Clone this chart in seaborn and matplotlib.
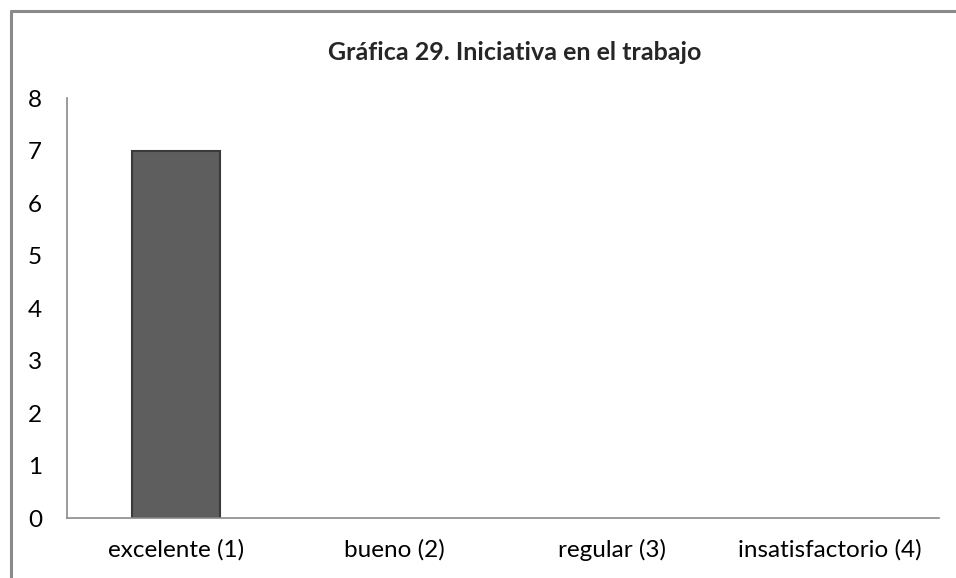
import matplotlib
matplotlib.use("Agg")
import matplotlib.pyplot as plt
import matplotlib.lines as mlines
import seaborn as sns
import pandas as pd

# datos de la gráfica
categorias = ['excelente (1)', 'bueno (2)', 'regular (3)', 'insatisfactorio (4)']
valores = [7, 0, 0, 0]
yticks = [0, 1, 2, 3, 4, 5, 6, 7, 8]
titulo = 'Gráfica 29. Iniciativa en el trabajo'

df = pd.DataFrame({'categoria': categorias, 'valor': valores})

sns.set_theme(style="white")
plt.rcParams['font.family'] = ['Lato', 'DejaVu Sans']

fig = plt.figure(figsize=(9.56, 5.78), dpi=100)
ax = fig.add_axes([0.0701, 0.1038, 0.912, 0.7266])

sns.barplot(data=df, x='categoria', y='valor', ax=ax, color='#5e5e5e',
            width=0.40, saturation=1, edgecolor='#3a3a3a', linewidth=1.5)

# las barras con valor 0 no se dibujan
for p in ax.patches:
    if p.get_height() == 0:
        p.set_visible(False)

ax.set_ylim(0, 8)
ax.set_xlim(-0.5, 3.5)
ax.set_yticks(yticks)
ax.set_xlabel('')
ax.set_ylabel('')
ax.tick_params(axis='y', length=0, pad=18, labelsize=17.5, colors='black')
ax.tick_params(axis='x', length=0, pad=15, labelsize=17.5, colors='black')

for s in ['top', 'right']:
    ax.spines[s].set_visible(False)
for s in ['left', 'bottom']:
    ax.spines[s].set_color('#8a8a8a')
    ax.spines[s].set_linewidth(1.2)

fig.text(0.538, 0.91, titulo, ha='center', va='center', fontsize=18, fontweight='bold')

# marco del área de gráfico
fig.add_artist(mlines.Line2D([0.0115, 0.0115], [0, 0.9815], color='#8a8a8a', lw=2.2,
                             transform=fig.transFigure))
fig.add_artist(mlines.Line2D([0.0115, 1.0], [0.9815, 0.9815], color='#8a8a8a', lw=2.2,
                             transform=fig.transFigure))

fig.savefig('out.png', dpi=100, facecolor='white')
